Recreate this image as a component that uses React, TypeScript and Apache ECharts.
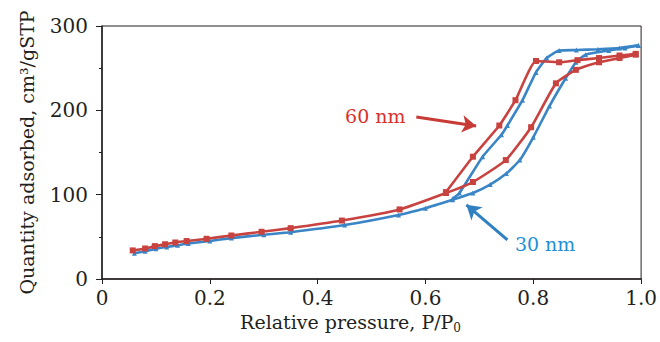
import React, { useEffect, useRef } from "react";
import * as echarts from "echarts";

// Relative pressure (P/P0) and quantity adsorbed (cm3/gSTP)
const red60Ads: [number, number][] = [
  [0.057, 33.9], [0.08, 36.2], [0.098, 39.0], [0.117, 41.2], [0.136, 43.3], [0.157, 45.0],
  [0.194, 47.7], [0.24, 51.6], [0.296, 56.0], [0.35, 60.3], [0.445, 69.3], [0.552, 82.5],
  [0.638, 102], [0.688, 115], [0.749, 141], [0.796, 180], [0.842, 232], [0.879, 248],
  [0.922, 257], [0.96, 262], [0.99, 266],
];
const red60Des: [number, number][] = [
  [0.99, 267], [0.96, 265], [0.922, 262], [0.882, 259.5], [0.848, 257], [0.805, 258.5],
  [0.767, 212], [0.737, 182], [0.688, 145], [0.638, 103],
];
const blue30Ads: [number, number][] = [
  [0.06, 30.5], [0.08, 33], [0.1, 36], [0.12, 38], [0.14, 40], [0.16, 42], [0.2, 45],
  [0.24, 48.5], [0.3, 52.5], [0.35, 55.5], [0.45, 64], [0.55, 76], [0.6, 84], [0.65, 94],
  [0.688, 102], [0.72, 112], [0.75, 125], [0.775, 141], [0.8, 168], [0.83, 205],
  [0.86, 238], [0.879, 257], [0.897, 266], [0.94, 271], [0.97, 274], [0.995, 277],
];
const blue30Des: [number, number][] = [
  [0.995, 277], [0.96, 274], [0.92, 272.5], [0.88, 271.5], [0.848, 271], [0.825, 262],
  [0.805, 245], [0.78, 212], [0.752, 182], [0.741, 171], [0.706, 145], [0.663, 102],
  [0.65, 95],
];
const xTickLabels = ["0", "0.2", "0.4", "0.6", "0.8", "1.0"];
const yTickLabels = ["0", "100", "200", "300"];
const label60 = "60 nm";
const label30 = "30 nm";
const arrow60: [number, number][] = [[0.583, 192], [0.694, 181.5]];
const arrow30: [number, number][] = [[0.752, 46.5], [0.676, 88]];

const RED = "#c8423f";
const BLUE = "#3a85c6";
const TXT = "#231f20";
const FONT = "DejaVu Serif";

export default function App() {
  const ref = useRef<HTMLDivElement>(null);
  useEffect(() => {
    if (!ref.current) return;
    const chart = echarts.init(ref.current, null, { renderer: "svg" });
    const lineOf = (name: string, data: [number, number][], color: string, isRed: boolean) => ({
      name,
      type: "line",
      data,
      smooth: 0.15,
      symbol: isRed ? "rect" : "triangle",
      symbolSize: isRed ? 6 : 5,
      showSymbol: true,
      itemStyle: { color },
      lineStyle: { color, width: 2.6 },
      z: isRed ? 3 : 2,
    });
    chart.setOption({
      animation: false,
      grid: {
        left: 102, right: 18, top: 26, bottom: 63,
        show: true, borderColor: TXT, borderWidth: 1, backgroundColor: "transparent",
      },
      xAxis: {
        type: "value", min: 0, max: 1, interval: 0.2,
        name: "{a|Relative pressure, P/P}{s|0}",
        nameLocation: "middle", nameGap: 31,
        nameTextStyle: {
          padding: [0, 42, 0, 0],
          rich: {
            a: { fontFamily: FONT, fontSize: 19, color: TXT },
            s: { fontFamily: FONT, fontSize: 12, color: TXT, padding: [12, 0, 0, 0] },
          },
        },
        axisLine: { show: true, lineStyle: { color: TXT, width: 1.5 } },
        axisTick: { show: true, inside: false, length: 5, lineStyle: { color: TXT } },
        splitLine: { show: false },
        axisLabel: {
          margin: 9, color: TXT, fontFamily: FONT, fontSize: 20,
          formatter: (_v: number, i: number) => xTickLabels[i],
        },
      },
      yAxis: {
        type: "value", min: 0, max: 300, interval: 100,
        name: "Quantity adsorbed, cm³/gSTP",
        nameLocation: "middle", nameGap: 66,
        nameTextStyle: { fontFamily: FONT, fontSize: 19, color: TXT },
        axisLine: { show: true, lineStyle: { color: TXT, width: 1.5 } },
        axisTick: { show: true, inside: false, length: 6, lineStyle: { color: TXT } },
        minorTick: { show: true, splitNumber: 2, length: 3, lineStyle: { color: TXT } },
        splitLine: { show: false },
        axisLabel: {
          margin: 14, color: TXT, fontFamily: FONT, fontSize: 20,
          formatter: (_v: number, i: number) => yTickLabels[i],
        },
      },
      series: [
        {
          ...lineOf("30 nm adsorption", blue30Ads, BLUE, false),
          markLine: {
            silent: true, symbol: ["none", "arrow"], symbolSize: [13, 14],
            lineStyle: { color: "#2f7fc1", width: 3, type: "solid" },
            label: { show: false },
            data: [[{ coord: arrow30[0] }, { coord: arrow30[1] }]],
          },
          markPoint: {
            symbol: "circle", symbolSize: 0,
            label: {
              show: true, formatter: label30, color: "#1f8fd6",
              fontFamily: FONT, fontSize: 19, position: "inside",
            },
            data: [{ coord: [0.822, 41.5] }],
          },
        },
        lineOf("30 nm desorption", blue30Des, BLUE, false),
        {
          ...lineOf("60 nm adsorption", red60Ads, RED, true),
          markLine: {
            silent: true, symbol: ["none", "arrow"], symbolSize: [13, 14],
            lineStyle: { color: "#c83a36", width: 3, type: "solid" },
            label: { show: false },
            data: [[{ coord: arrow60[0] }, { coord: arrow60[1] }]],
          },
          markPoint: {
            symbol: "circle", symbolSize: 0,
            label: {
              show: true, formatter: label60, color: "#d8302c",
              fontFamily: FONT, fontSize: 19, position: "inside",
            },
            data: [{ coord: [0.507, 193.5] }],
          },
        },
        lineOf("60 nm desorption", red60Des, RED, true),
      ],
    });
    return () => chart.dispose();
  }, []);
  return (
    <div
      ref={ref}
      style={{ position: "fixed", left: 0, top: 0, width: 660, height: 342, background: "#fff" }}
    />
  );
}
